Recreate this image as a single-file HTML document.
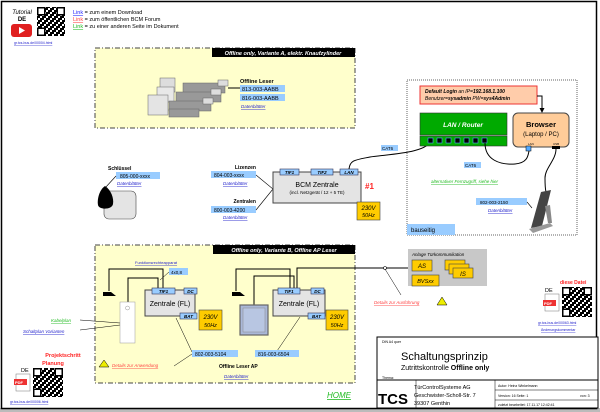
<!DOCTYPE html>
<html><head><meta charset="utf-8"><style>
html,body{margin:0;padding:0;background:#fff}
svg{display:block}
text{font-family:"Liberation Sans",sans-serif}
</style></head><body>
<svg width="600" height="412" viewBox="0 0 600 412" xmlns="http://www.w3.org/2000/svg">
<defs>
<pattern id="qr" width="6" height="6" patternUnits="userSpaceOnUse"><rect width="6" height="6" fill="#fff"/><rect width="2" height="2" fill="#000"/><rect x="2" y="2" width="2" height="2" fill="#000"/><rect x="4" y="0" width="2" height="4" fill="#000"/><rect x="0" y="4" width="4" height="2" fill="#000"/></pattern>
</defs>
<rect x="0" y="0" width="600" height="412" fill="#fff"/>
<rect x="0" y="408" width="600" height="4" fill="#bbb"/>
<rect x="1.5" y="1.5" width="595" height="407" fill="none" stroke="#000" stroke-width="1.5"/>

<!-- top-left tutorial -->
<text x="22" y="14" font-size="6" font-style="italic" text-anchor="middle">Tutorial</text>
<text x="22" y="21" font-size="6" font-weight="bold" text-anchor="middle">DE</text>
<rect x="11" y="24" width="21" height="13" rx="3" fill="#e02020"/>
<path d="M19 27 L25 30.5 L19 34Z" fill="#fff"/>
<rect x="37" y="7" width="28" height="29" fill="url(#qr)"/>
<rect x="37.75" y="7.75" width="7" height="7" fill="#fff" stroke="#000" stroke-width="1.5"/>
<rect x="57.25" y="7.75" width="7" height="7" fill="#fff" stroke="#000" stroke-width="1.5"/>
<rect x="37.75" y="28.25" width="7" height="7" fill="#fff" stroke="#000" stroke-width="1.5"/>
<text x="14" y="44" font-size="3.5" fill="#22c" text-decoration="underline">gr.tcs-bus.de/00004.html</text>
<text x="73" y="14" font-size="5.5"><tspan fill="#22f" text-decoration="underline">Link</tspan> = zum einem Download</text>
<text x="73" y="21" font-size="5.5"><tspan fill="#f44" text-decoration="underline">Link</tspan> = zum öffentlichen BCM Forum</text>
<text x="73" y="28" font-size="5.5"><tspan fill="#2b2" text-decoration="underline">Link</tspan> = zu einer anderen Seite im Dokument</text>

<!-- Box A -->
<rect x="95" y="48" width="260" height="80" fill="#ffffcc" stroke="#444" stroke-dasharray="5,2,1,2"/>
<rect x="212" y="48" width="143" height="9" fill="#000"/>
<text x="283" y="55" font-size="5.5" font-style="italic" font-weight="bold" fill="#fff" text-anchor="middle">Offline only, Variante A, elektr. Knaufzylinder</text>
<g stroke="#666" stroke-width="0.5">
<rect x="160" y="78" width="15" height="14" fill="#ddd"/><rect x="157" y="87" width="17" height="15" fill="#e8e8e8"/><rect x="148" y="95" width="20" height="20" fill="#e4e4e4"/>
<rect x="183" y="83" width="42" height="10" fill="#999"/><rect x="176" y="92" width="45" height="10" fill="#999"/><rect x="169" y="101" width="42" height="10" fill="#999"/><rect x="169" y="109" width="30" height="8" fill="#999"/>
<rect x="218" y="80" width="10" height="6" fill="#ddd"/><rect x="211" y="89" width="10" height="6" fill="#ddd"/><rect x="203" y="98" width="10" height="6" fill="#ddd"/>
</g>
<line x1="228" y1="88" x2="240" y2="88" stroke="#000"/>
<text x="240" y="83" font-size="5.5" font-weight="bold">Offline Leser</text>
<rect x="240" y="85" width="45" height="7" fill="#99ccff"/><text x="242" y="91" font-size="5.5">813-003-AABB</text>
<rect x="240" y="94" width="45" height="7" fill="#99ccff"/><text x="242" y="100" font-size="5.5">816-003-AABB</text>
<text x="241" y="108" font-size="4.5" font-style="italic" fill="#22c" text-decoration="underline">Datenblätter</text>

<!-- Schlüssel -->
<text x="108" y="170" font-size="5" font-weight="bold">Schlüssel</text>
<rect x="116" y="172" width="44" height="7" fill="#99ccff"/><text x="120" y="178" font-size="5">805-000-xxxx</text>
<text x="117" y="185" font-size="4.5" font-style="italic" fill="#22c" text-decoration="underline">Datenblätter</text>
<line x1="116" y1="176" x2="105" y2="188" stroke="#000" stroke-width="0.6"/>
<rect x="104" y="191" width="32" height="28" rx="5" fill="#e4e4e4" stroke="#444" stroke-width="0.6"/>
<path d="M105 186 C99 190 97 200 98 205 C99 210 112 210 113 204 C114 198 111 190 105 186Z" fill="#000"/>

<!-- Lizenzen / Zentralen -->
<text x="256" y="169" font-size="5" font-weight="bold" text-anchor="end">Lizenzen</text>
<rect x="211" y="171" width="45" height="7" fill="#99ccff"/><text x="214" y="177" font-size="5">804-003-xxxx</text>
<text x="223" y="185" font-size="4.5" font-style="italic" fill="#22c" text-decoration="underline">Datenblätter</text>
<text x="256" y="203" font-size="5" font-weight="bold" text-anchor="end">Zentralen</text>
<rect x="211" y="206" width="45" height="7" fill="#99ccff"/><text x="214" y="212" font-size="5">800-003-4200</text>
<text x="223" y="219" font-size="4.5" font-style="italic" fill="#22c" text-decoration="underline">Datenblätter</text>
<polyline points="256,175 273,189 256,210" fill="none" stroke="#000" stroke-width="0.6"/>

<!-- BCM -->
<rect x="273" y="172" width="88" height="31" fill="#e4e4e4" stroke="#444"/>
<text x="317" y="187" font-size="7" text-anchor="middle">BCM Zentrale</text>
<text x="317" y="194" font-size="4.5" text-anchor="middle">(incl. Netzgerät / 12 + 5 TE)</text>
<rect x="280" y="169" width="19" height="6" fill="#99ccff" stroke="#335" stroke-width="0.6"/><text x="289.5" y="174" font-size="4.5" font-style="italic" font-weight="bold" text-anchor="middle">TIF1</text>
<rect x="311" y="169" width="22" height="6" fill="#99ccff" stroke="#335" stroke-width="0.6"/><text x="322" y="174" font-size="4.5" font-style="italic" font-weight="bold" text-anchor="middle">TIF2</text>
<rect x="340" y="169" width="18" height="6" fill="#99ccff" stroke="#335" stroke-width="0.6"/><text x="349" y="174" font-size="4.5" font-style="italic" font-weight="bold" text-anchor="middle">LAN</text>
<text x="365" y="189" font-size="8" font-weight="bold" fill="#f22">#1</text>
<rect x="357" y="202" width="23" height="18" fill="#ffcc00" stroke="#444" stroke-width="0.6"/>
<text x="368.5" y="210" font-size="6" font-style="italic" text-anchor="middle">230V</text>
<text x="368.5" y="217" font-size="5.5" font-style="italic" text-anchor="middle">50Hz</text>
<path d="M349 169 C350 160 355 160 370 157 C390 154 428 153 431 140" fill="none" stroke="#000" stroke-width="1"/>
<rect x="381" y="145" width="17" height="6" fill="#99ccff"/><text x="382" y="150" font-size="4.5">CAT6</text>

<!-- bauseitig -->
<rect x="407" y="80" width="170" height="155" fill="none" stroke="#666" stroke-dasharray="1,1"/>
<rect x="420" y="86" width="117" height="18" fill="#ffccaa" stroke="#e33"/>
<text x="425" y="93" font-size="5" font-style="italic"><tspan font-weight="bold">Default Login</tspan> an IP=<tspan font-weight="bold">192.168.1.100</tspan></text>
<text x="425" y="100" font-size="5" font-style="italic">Benutzer=<tspan font-weight="bold">sysadmin</tspan> PW=<tspan font-weight="bold">sys4Admin</tspan></text>
<path d="M537 96 L542 96 L542 111" fill="none" stroke="#000"/><path d="M539.5 108 L542 113 L544.5 108Z"/>
<rect x="420" y="113" width="87" height="22" fill="#00aa00" stroke="#333" stroke-width="0.6"/>
<text x="463" y="127" font-size="6.5" font-style="italic" font-weight="bold" fill="#fff" text-anchor="middle">LAN / Router</text>
<rect x="420" y="136" width="87" height="10" fill="#00aa00" stroke="#333" stroke-width="0.6"/>
<g fill="#000" stroke="#5af" stroke-width="0.6"><rect x="428" y="138" width="5" height="5"/><rect x="437" y="138" width="5" height="5"/><rect x="446" y="138" width="5" height="5"/><rect x="455" y="138" width="5" height="5"/><rect x="464" y="138" width="5" height="5"/><rect x="473" y="138" width="5" height="5"/><rect x="482" y="138" width="5" height="5"/></g>
<rect x="513" y="113" width="56" height="34" rx="5" fill="#ffcc99" stroke="#444"/>
<text x="541" y="127" font-size="7.5" font-weight="bold" text-anchor="middle">Browser</text>
<text x="541" y="136" font-size="6" text-anchor="middle">(Laptop / PC)</text>
<text x="528" y="145" font-size="3">LAN</text><text x="553" y="145" font-size="3">USB</text>
<rect x="526" y="146" width="5" height="5" fill="#5af" stroke="#000" stroke-width="0.5"/>
<rect x="552" y="146" width="8" height="3" fill="#000"/>
<path d="M485 143 C485 160 500 165 515 164 C528 163 528 155 529 151" fill="none" stroke="#000"/>
<rect x="464" y="162" width="17" height="6" fill="#99ccff"/><text x="465" y="167" font-size="4.5">CAT6</text>
<path d="M556 149 C556 160 545 168 545 178 C545 185 545 188 546 192" fill="none" stroke="#000"/>
<text x="431" y="183" font-size="4.5" font-style="italic" fill="#2b2" text-decoration="underline">alternativer Fernzugriff, siehe hier</text>
<rect x="476" y="198" width="51" height="7" fill="#99ccff"/><text x="480" y="204" font-size="4.5">802-003-2150</text>
<text x="488" y="212" font-size="4.5" font-style="italic" fill="#22c" text-decoration="underline">Datenblätter</text>
<line x1="527" y1="202" x2="532" y2="208" stroke="#000" stroke-width="0.6"/>
<path d="M541 192 L551 190 L542 226 L531 228Z" fill="#444"/>
<path d="M529 229 L550 223 L553 226 L533 233Z" fill="#999"/>
<path d="M545 206 L548 223 L552 223 L550 205Z" fill="#888"/>
<rect x="407" y="224" width="48" height="11" fill="#99ccff"/><text x="411" y="232" font-size="6">bauseitig</text>

<!-- Box B -->
<rect x="95" y="245" width="260" height="138" fill="#ffffcc" stroke="#444" stroke-dasharray="5,2,1,2"/>
<rect x="213" y="245" width="142" height="9" fill="#000"/>
<text x="284" y="252" font-size="5.5" font-style="italic" font-weight="bold" fill="#fff" text-anchor="middle">Offline only, Variante B, Offline AP Leser</text>
<text x="135" y="264" font-size="4" fill="#22c" text-decoration="underline">Funktionsrechteapparat</text>
<rect x="169" y="268" width="19" height="7" fill="#99ccff"/><text x="171" y="274" font-size="4.5">4x0,8</text>
<line x1="169" y1="272" x2="160" y2="280" stroke="#000" stroke-width="0.5"/>
<path d="M109 291 L109 269 L163 269 L163 288" fill="none" stroke="#000" stroke-width="1"/>
<path d="M128 302 L128 278 L158 278 L158 288" fill="none" stroke="#000" stroke-width="1"/>
<path d="M103 296 L103 292 L111 292 L116 296Z" fill="#000"/>
<rect x="120" y="302" width="15" height="41" fill="#fff" stroke="#999" stroke-width="0.5"/>
<circle cx="127.5" cy="308" r="2" fill="none" stroke="#999" stroke-width="0.5"/>
<rect x="145" y="290" width="50" height="26" fill="#e4e4e4" stroke="#444"/>
<text x="170" y="306" font-size="7" text-anchor="middle">Zentrale (FL)</text>
<rect x="152" y="288" width="23" height="6" fill="#99ccff" stroke="#335" stroke-width="0.6"/><text x="163.5" y="293" font-size="4.5" font-style="italic" font-weight="bold" text-anchor="middle">TIF1</text>
<rect x="184" y="288" width="13" height="6" fill="#99ccff" stroke="#335" stroke-width="0.6"/><text x="190.5" y="293" font-size="4.5" font-style="italic" font-weight="bold" text-anchor="middle">DC</text>
<rect x="180" y="313" width="17" height="6" fill="#99ccff" stroke="#335" stroke-width="0.6"/><text x="188.5" y="318" font-size="4.5" font-style="italic" font-weight="bold" text-anchor="middle">BAT</text>
<rect x="199" y="310" width="23" height="20" fill="#ffcc00" stroke="#444" stroke-width="0.6"/>
<text x="210.5" y="319" font-size="6" font-style="italic" text-anchor="middle">230V</text><text x="210.5" y="327" font-size="5.5" font-style="italic" text-anchor="middle">50Hz</text>

<path d="M236 291 L236 269 L290 269 L290 288" fill="none" stroke="#000" stroke-width="1"/>
<path d="M254 305 L254 276 L294 276 L294 288" fill="none" stroke="#000" stroke-width="1"/>
<path d="M297 288 L297 268 L408 268" fill="none" stroke="#000" stroke-width="1"/>
<path d="M232 296 L232 292 L240 292 L245 296Z" fill="#000"/>
<rect x="240" y="305" width="28" height="30" fill="#aab8d8" stroke="#666" stroke-width="1.2"/>
<rect x="243" y="308" width="22" height="24" fill="#b8c6e2" stroke="#888" stroke-width="0.5"/>
<rect x="273" y="290" width="52" height="26" fill="#e4e4e4" stroke="#444"/>
<text x="299" y="306" font-size="7" text-anchor="middle">Zentrale (FL)</text>
<rect x="278" y="288" width="22" height="6" fill="#99ccff" stroke="#335" stroke-width="0.6"/><text x="289" y="293" font-size="4.5" font-style="italic" font-weight="bold" text-anchor="middle">TIF1</text>
<rect x="311" y="288" width="13" height="6" fill="#99ccff" stroke="#335" stroke-width="0.6"/><text x="317.5" y="293" font-size="4.5" font-style="italic" font-weight="bold" text-anchor="middle">DC</text>
<rect x="308" y="313" width="17" height="6" fill="#99ccff" stroke="#335" stroke-width="0.6"/><text x="316.5" y="318" font-size="4.5" font-style="italic" font-weight="bold" text-anchor="middle">BAT</text>
<rect x="326" y="310" width="22" height="20" fill="#ffcc00" stroke="#444" stroke-width="0.6"/>
<text x="337" y="319" font-size="6" font-style="italic" text-anchor="middle">230V</text><text x="337" y="327" font-size="5.5" font-style="italic" text-anchor="middle">50Hz</text>

<line x1="176" y1="318" x2="192" y2="352" stroke="#000" stroke-width="0.5"/>
<line x1="192" y1="354" x2="174" y2="366" stroke="#000" stroke-width="0.5"/>
<rect x="192" y="350" width="46" height="7" fill="#99ccff"/><text x="195" y="356" font-size="5">802-003-5104</text>
<line x1="300" y1="317" x2="277" y2="351" stroke="#000" stroke-width="0.5"/>
<rect x="255" y="350" width="44" height="7" fill="#99ccff"/><text x="258" y="356" font-size="5">816-003-6504</text>
<text x="219" y="368" font-size="5" font-weight="bold">Offline Leser AP</text>
<text x="224" y="378" font-size="4.5" font-style="italic" fill="#22c" text-decoration="underline">Datenblätter</text>
<path d="M99 367 L104 360 L109 367Z" fill="#ee0" stroke="#000" stroke-width="0.5"/>
<text x="112" y="367" font-size="4.5" font-style="italic" fill="#f44" text-decoration="underline">Details zur Anwendung</text>
<text x="327" y="398" font-size="8" font-style="italic" fill="#2b2" text-decoration="underline">HOME</text>

<line x1="80" y1="320" x2="120" y2="323" stroke="#000" stroke-width="0.5"/>
<line x1="80" y1="330" x2="120" y2="325" stroke="#000" stroke-width="0.5"/>
<text x="51" y="322" font-size="4.5" font-style="italic" fill="#2b2" text-decoration="underline">Kabelplan</text>
<text x="23" y="333" font-size="4.5" font-style="italic" fill="#22c" text-decoration="underline">Schaltplan Varianten</text>
<text x="63" y="357" font-size="5.5" font-weight="bold" fill="#f22" text-anchor="middle">Projektschritt</text>
<text x="53" y="365" font-size="5.5" font-weight="bold" fill="#f22" text-anchor="middle">Planung</text>
<text x="21" y="372" font-size="5.5">DE</text>
<rect x="16" y="374" width="14" height="17" fill="#fff" stroke="#777" stroke-width="0.5"/>
<rect x="14" y="379" width="13" height="6" fill="#e33"/><text x="15" y="384" font-size="4" font-weight="bold" fill="#fff">PDF</text>
<rect x="33" y="368" width="30" height="29" fill="url(#qr)"/>
<rect x="33.75" y="368.75" width="7" height="7" fill="#fff" stroke="#000" stroke-width="1.5"/>
<rect x="55.25" y="368.75" width="7" height="7" fill="#fff" stroke="#000" stroke-width="1.5"/>
<rect x="33.75" y="389.25" width="7" height="7" fill="#fff" stroke="#000" stroke-width="1.5"/>
<text x="10" y="403" font-size="3.5" fill="#22c" text-decoration="underline">gr.tcs-bus.de/00006.html</text>

<!-- Anlage -->
<rect x="408" y="249" width="79" height="37" fill="#c8c8c8"/>
<text x="412" y="256" font-size="4.5" font-style="italic">Anlage Türkommunikation</text>
<rect x="412" y="260" width="20" height="11" fill="#ffcc00" stroke="#444" stroke-width="0.6"/><text x="422" y="268" font-size="6" font-style="italic" text-anchor="middle">AS</text>
<rect x="412" y="275" width="27" height="11" fill="#ffcc00" stroke="#444" stroke-width="0.6"/><text x="425.5" y="283" font-size="5.5" font-style="italic" text-anchor="middle">BVSxx</text>
<rect x="445" y="260" width="20" height="10" fill="#ffcc00" stroke="#444" stroke-width="0.6"/>
<rect x="449" y="264" width="20" height="10" fill="#ffcc00" stroke="#444" stroke-width="0.6"/>
<rect x="453" y="268" width="20" height="10" fill="#ffcc00" stroke="#444" stroke-width="0.6"/><text x="463" y="276" font-size="6" font-style="italic" text-anchor="middle">IS</text>
<circle cx="385" cy="268" r="1.5" fill="#fff" stroke="#000" stroke-width="0.6"/>
<line x1="385" y1="269" x2="401" y2="295" stroke="#000" stroke-width="0.5"/>
<text x="374" y="304" font-size="4.5" font-style="italic" fill="#f44" text-decoration="underline">Details zur Ausführung</text>
<path d="M437 305 L442 297 L447 305Z" fill="#ee0" stroke="#000" stroke-width="0.5"/>

<!-- diese Datei -->
<text x="560" y="284" font-size="5" font-weight="bold" fill="#f22">diese Datei</text>
<text x="545" y="292" font-size="5.5">DE</text>
<rect x="545" y="294" width="14" height="17" fill="#fff" stroke="#777" stroke-width="0.5"/>
<rect x="543" y="300" width="13" height="6" fill="#e33"/><text x="544" y="305" font-size="4" font-weight="bold" fill="#fff">PDF</text>
<rect x="562" y="287" width="30" height="30" fill="url(#qr)"/>
<rect x="562.75" y="287.75" width="7" height="7" fill="#fff" stroke="#000" stroke-width="1.5"/>
<rect x="584.25" y="287.75" width="7" height="7" fill="#fff" stroke="#000" stroke-width="1.5"/>
<rect x="562.75" y="309.25" width="7" height="7" fill="#fff" stroke="#000" stroke-width="1.5"/>
<text x="538" y="324" font-size="3.5" fill="#22c" text-decoration="underline">gr.tcs-bus.de/00063.html</text>
<text x="541" y="331" font-size="3.5" fill="#22c" text-decoration="underline">Änderungskommentar</text>

<!-- Title block -->
<rect x="377" y="337" width="221" height="71" fill="#fff" stroke="#000" stroke-width="1"/>
<line x1="377" y1="380" x2="598" y2="380" stroke="#000"/>
<line x1="416" y1="380" x2="416" y2="408" stroke="#000" stroke-width="0.5"/>
<line x1="495" y1="380" x2="495" y2="408" stroke="#000" stroke-width="0.5"/>
<line x1="495" y1="390" x2="598" y2="390" stroke="#000" stroke-width="0.5"/>
<line x1="495" y1="400" x2="598" y2="400" stroke="#000" stroke-width="0.5"/>
<text x="382" y="343" font-size="3.5">DIN A4 quer</text>
<text x="401" y="360" font-size="11">Schaltungsprinzip</text>
<text x="401" y="370" font-size="7">Zutrittskontrolle <tspan font-weight="bold">Offline only</tspan></text>
<text x="382" y="379" font-size="3.5">Thema:</text>
<text x="378" y="404" font-size="15" font-weight="bold">TCS</text>
<text x="414" y="389" font-size="5.5">TürControlSysteme AG</text>
<text x="414" y="397" font-size="5.5">Geschwister-Scholl-Str. 7</text>
<text x="414" y="405" font-size="5.5">39307 Genthin</text>
<text x="498" y="387" font-size="3.5">Autor: Heinz Winkelmann</text>
<text x="498" y="397" font-size="3.5">Version: 16      Seite: 1</text><text x="580" y="397" font-size="3.5">von: 3</text>
<text x="498" y="406" font-size="3.5">zuletzt bearbeitet:    17.11.17    12:42:41</text>
</svg>
</body></html>
